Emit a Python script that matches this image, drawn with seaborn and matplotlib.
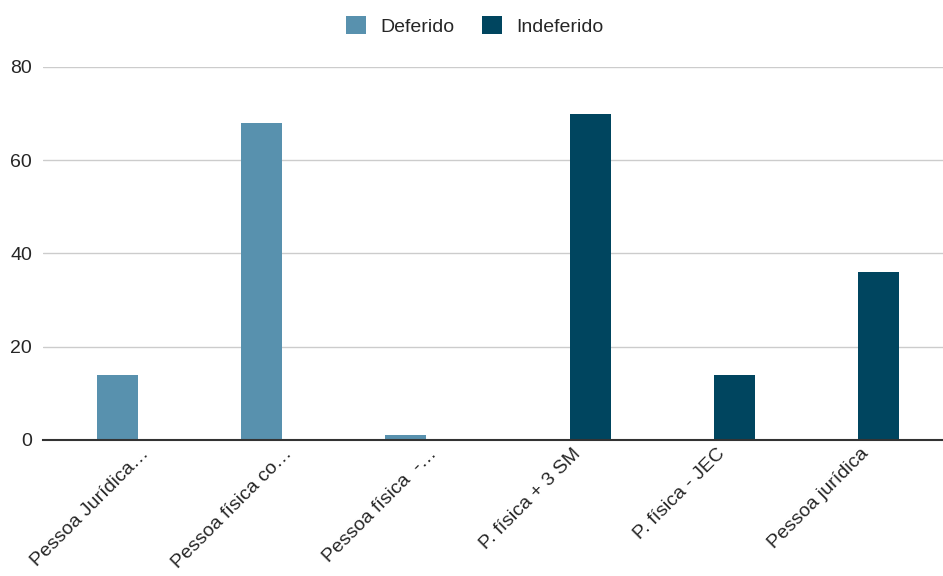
import matplotlib
matplotlib.use("Agg")
import matplotlib.pyplot as plt
import matplotlib.transforms as mtransforms
import seaborn as sns
import pandas as pd

categories = [
    "Pessoa Jurídica…",
    "Pessoa física co…",
    "Pessoa física  -…",
    "P. física + 3 SM",
    "P. física - JEC",
    "Pessoa jurídica",
]
deferido = [14, 68, 1, 0, 0, 0]
indeferido = [0, 0, 0, 70, 14, 36]
series = ["Deferido", "Indeferido"]
colors = ["#5891ae", "#00455f"]
y_ticks = [0, 20, 40, 60, 80]

df = pd.DataFrame({
    "categoria": categories * 2,
    "serie": [series[0]] * len(categories) + [series[1]] * len(categories),
    "valor": deferido + indeferido,
})

sns.set_theme(style="white")
plt.rcParams["font.family"] = ["Liberation Sans", "DejaVu Sans"]

fig = plt.figure(figsize=(9.43, 5.76), dpi=100)
ax = fig.add_axes([43 / 943, 136 / 576, 900 / 943, (440 - 67) / 576])

sns.barplot(
    data=df, x="categoria", y="valor", hue="serie",
    hue_order=series, palette=colors, width=0.57,
    saturation=1, ax=ax, legend=False, linewidth=0,
)

ax.set_ylim(0, 80)
ax.set_xlim(-0.66, 5.59)
ax.set_yticks(y_ticks)
ax.set_yticklabels([str(v) for v in y_ticks], fontsize=14, color="#262626")
ax.yaxis.grid(True, color="#cccccc", linewidth=1)
ax.set_axisbelow(True)
ax.tick_params(axis="y", length=0, pad=8)
ax.tick_params(axis="x", length=0, pad=8)
for side in ["left", "right", "top"]:
    ax.spines[side].set_visible(False)
ax.spines["bottom"].set_color("#333333")
ax.spines["bottom"].set_linewidth(1.5)
ax.set_xlabel("")
ax.set_ylabel("")

ax.set_xticks(range(len(categories)))
ax.set_xticklabels(categories, rotation=45, ha="right", va="center",
                   rotation_mode="anchor", fontsize=14, color="#262626")
shift = mtransforms.ScaledTranslation(8 / 100, 0, fig.dpi_scale_trans)
for lbl in ax.get_xticklabels():
    lbl.set_transform(lbl.get_transform() + shift)

# legend centered above the plot
handles = [plt.Rectangle((0, 0), 1, 1, facecolor=c, edgecolor="none") for c in colors]
fig.legend(handles, series, loc="center", bbox_to_anchor=(475 / 943, 1 - 26 / 576),
           ncol=2, frameon=False, fontsize=14, handlelength=1.03, handleheight=1.03,
           handletextpad=0.75, columnspacing=1.4, labelcolor="#262626")

fig.savefig("out.png", dpi=100, facecolor="white")
